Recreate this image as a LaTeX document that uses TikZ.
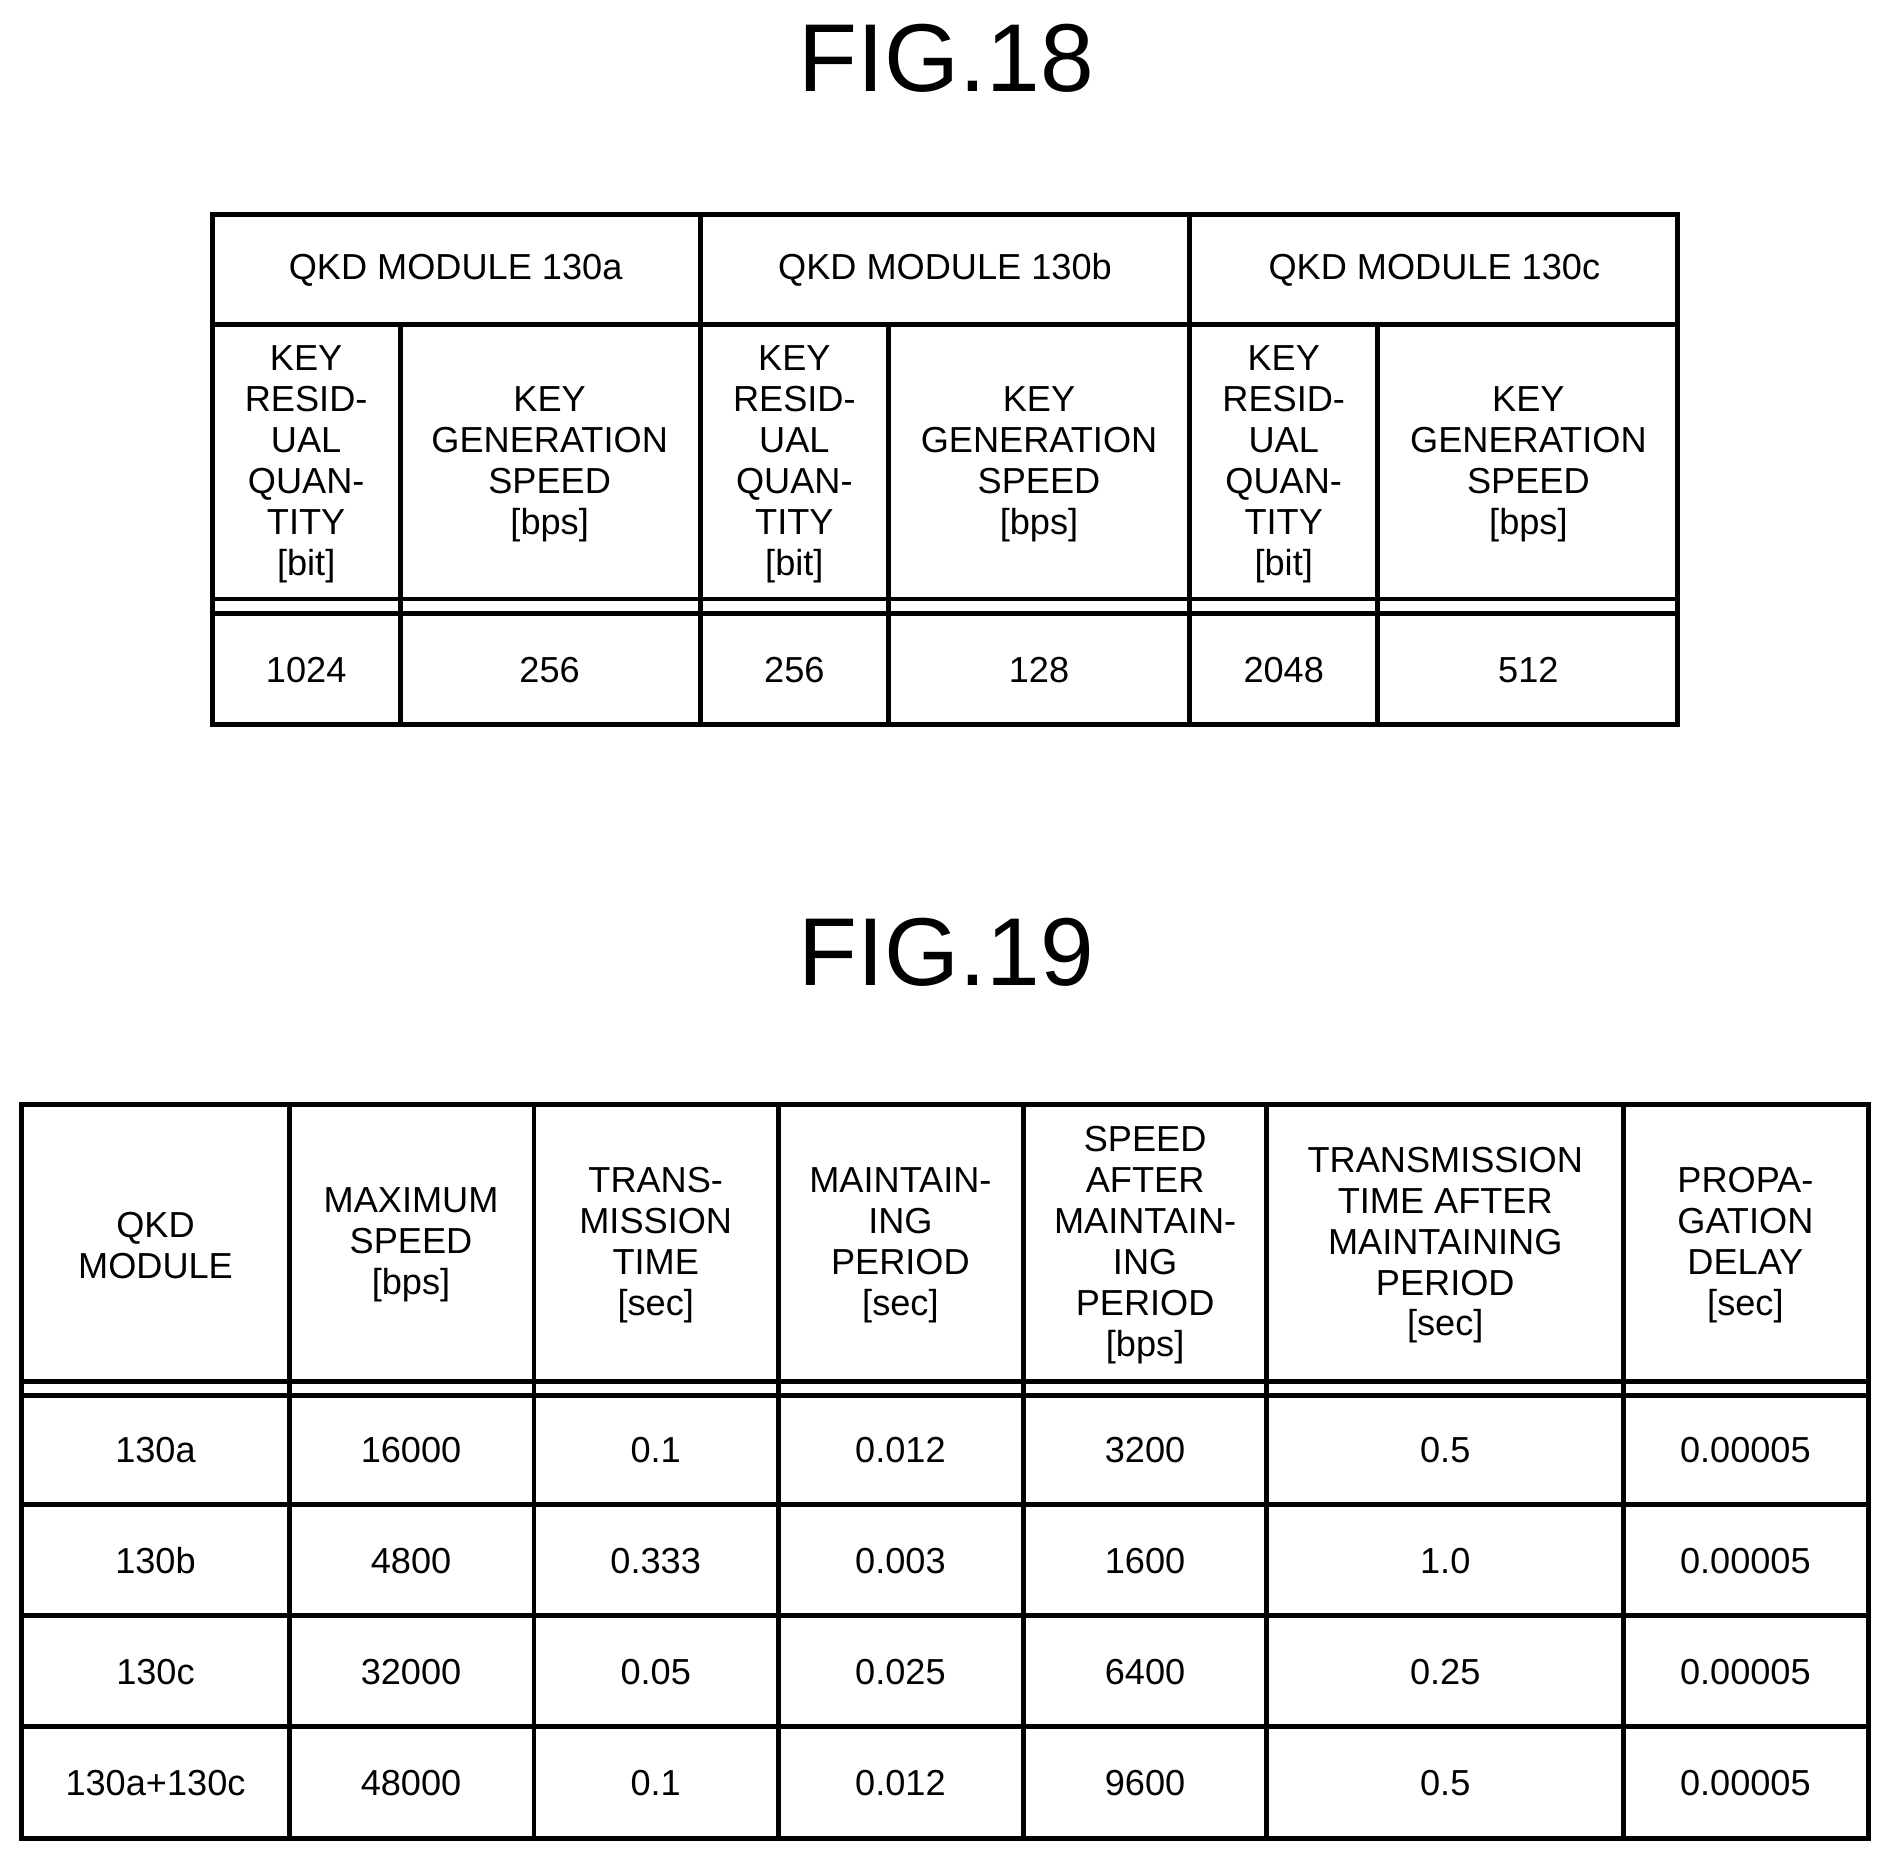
\documentclass[tikz,border=0pt]{standalone}
\usepackage{fontspec}
\setmainfont{Liberation Sans}
\tikzset{
  cell/.style={align=center,inner sep=0pt,font=\fontsize{30}{34}\selectfont},
  figtitle/.style={inner sep=0pt,font=\fontsize{80}{90}\selectfont},
  rule/.style={line width=4pt}
}
\begin{document}
\begin{tikzpicture}[x=1pt,y=-1pt]
\useasboundingbox (0,0) rectangle (1568,1544);
% FIG.18
\node (t18) [figtitle] at (785,48) {FIG.18};
\draw[rule] (176,178) rectangle (1392,601);
\draw[rule] (176,269) -- (1392,269);
\draw[rule] (176,497) -- (1392,497);
\draw[rule] (176,509) -- (1392,509);
\foreach \x in {581,987} \draw[rule] (\x,178) -- (\x,601);
\foreach \x in {332,737,1143} \draw[rule] (\x,269) -- (\x,601);
\foreach \x/\m [count=\i] in {378/a,784/b,1190/c}
  \node (mod\i) [cell] at (\x,224) {QKD MODULE 130\m};
\foreach \x [count=\i] in {254,659,1065}
  \node (res\i) [cell] at (\x,385) {KEY\\RESID-\\UAL\\QUAN-\\TITY\\{[bit]}};
\foreach \x [count=\i] in {456,862,1268}
  \node (gen\i) [cell] at (\x,385) {KEY\\GENERATION\\SPEED\\{[bps]}};
\foreach \x/\v [count=\i] in {254/1024,456/256,659/256,862/128,1065/2048,1268/512}
  \node (val\i) [cell] at (\x,556) {\v};
% FIG.19
\node (t19) [figtitle] at (785,790) {FIG.19};
\draw[rule] (18,916) rectangle (1550,1525);
\foreach \y in {1146,1158,1248,1340,1432} \draw[rule] (18,\y) -- (1550,\y);
\foreach \x in {240,443,646,849,1051,1347} \draw[rule] (\x,916) -- (\x,1525);
\node (h1) [cell] at (129,1033) {QKD\\MODULE};
\node (h2) [cell] at (341,1033) {MAXIMUM\\SPEED\\{[bps]}};
\node (h3) [cell] at (544,1033) {TRANS-\\MISSION\\TIME\\{[sec]}};
\node (h4) [cell] at (747,1033) {MAINTAIN-\\ING\\PERIOD\\{[sec]}};
\node (h5) [cell] at (950,1033) {SPEED\\AFTER\\MAINTAIN-\\ING\\PERIOD\\{[bps]}};
\node (h6) [cell] at (1199,1033) {TRANSMISSION\\TIME AFTER\\MAINTAINING\\PERIOD\\{[sec]}};
\node (h7) [cell] at (1448,1033) {PROPA-\\GATION\\DELAY\\{[sec]}};
\foreach \y/\a/\b/\c/\d/\e/\f/\g [count=\r] in {
  1203/130a/16000/0.1/0.012/3200/0.5/0.00005,
  1295/130b/4800/0.333/0.003/1600/1.0/0.00005,
  1387/130c/32000/0.05/0.025/6400/0.25/0.00005,
  1479/130a+130c/48000/0.1/0.012/9600/0.5/0.00005} {
  \node (r\r a) [cell] at (129,\y) {\a};
  \node (r\r b) [cell] at (341,\y) {\b};
  \node (r\r c) [cell] at (544,\y) {\c};
  \node (r\r d) [cell] at (747,\y) {\d};
  \node (r\r e) [cell] at (950,\y) {\e};
  \node (r\r f) [cell] at (1199,\y) {\f};
  \node (r\r g) [cell] at (1448,\y) {\g};
}
\end{tikzpicture}
\end{document}
